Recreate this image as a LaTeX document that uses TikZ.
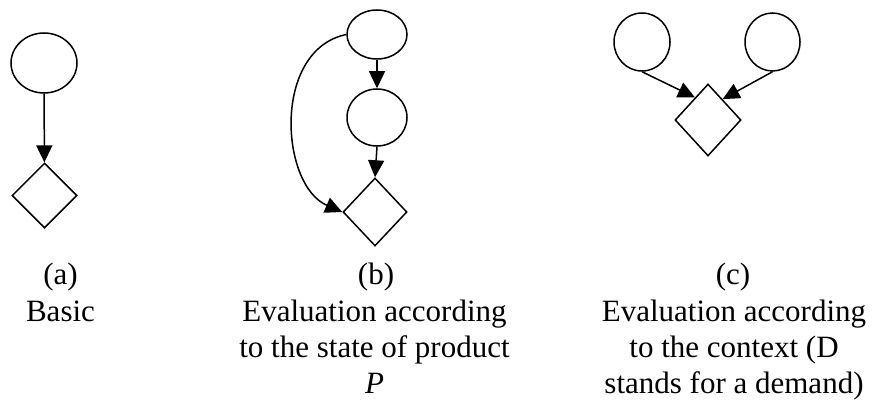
\documentclass[tikz,border=0pt]{standalone}
\usepackage{fontspec}
\setmainfont{Liberation Serif}
\usetikzlibrary{shapes.geometric,arrows.meta}
\begin{document}
\begin{tikzpicture}[x=1pt,y=-1pt,
  ev/.style={draw,ellipse,inner sep=0pt,line width=1.5pt},
  dec/.style={draw,diamond,inner sep=0pt,line width=1.5pt},
  arr/.style={line width=1.5pt,-{Triangle[length=17pt,width=16pt]}},
  lab/.style={anchor=base,inner sep=0pt,font=\fontsize{31}{36}\selectfont}]
\useasboundingbox (0,0) rectangle (877,401);
% (a)
\node[ev,minimum width=66pt,minimum height=60pt] (a1) at (44,63) {};
\node[dec,minimum width=65pt,minimum height=65pt] (ad) at (44.5,195.5) {};
\draw[arr] (a1) -- (ad);
% (b)
\node[ev,minimum width=60pt,minimum height=49pt] (b1) at (377,34.5) {};
\node[ev,minimum width=60pt,minimum height=57pt] (b2) at (377,117.5) {};
\node[dec,minimum width=64pt,minimum height=68pt] (bd) at (375,212) {};
\draw[arr] (b1) -- (b2);
\draw[arr] (b2.south) -- (bd.north);
\draw[arr] (b1.west) .. controls (272,50) and (280,185) .. (bd.west);
% (c)
\node[ev,minimum width=56pt,minimum height=58pt] (cl) at (642,42) {};
\node[ev,minimum width=55pt,minimum height=58pt] (cr) at (772.5,42) {};
\node[dec,minimum width=66pt,minimum height=72pt] (cd) at (708,120) {};
\draw[arr] (cl.south) -- (cd.120);
\draw[arr] (cr.south) -- (cd.55);
% labels
\node[lab] (la1) at (60.5,284) {(a)};
\node[lab] (la2) at (60.5,321) {Basic};
\node[lab] (lb1) at (376,284) {(b)};
\node[lab] (lb2) at (374.5,321) {Evaluation according};
\node[lab] (lb3) at (374.5,357) {to the state of product};
\node[lab] (lb4) at (374.5,393) {\textit{P}};
\node[lab] (lc1) at (733,284) {(c)};
\node[lab] (lc2) at (734,321) {Evaluation according};
\node[lab] (lc3) at (734,357) {to the context (D};
\node[lab] (lc4) at (734,393) {stands for a demand)};
\end{tikzpicture}
\end{document}
